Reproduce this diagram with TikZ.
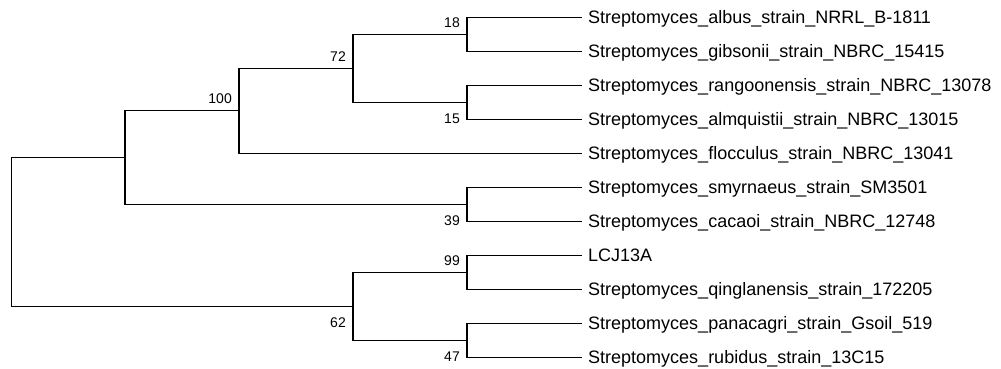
\documentclass[tikz,border=0pt]{standalone}
\usepackage{fontspec}
\setmainfont{Liberation Sans}
\begin{document}
\begin{tikzpicture}[x=1pt,y=-1pt,
  branch/.style={line width=1.2pt,draw=black},
  leaf/.style={anchor=west,inner xsep=6pt,inner ysep=0pt,
    font=\fontsize{18}{18}\selectfont,text height=12.6pt,text depth=0pt},
  boot/.style={anchor=east,inner sep=0pt,
    font=\fontsize{14}{14}\selectfont,text height=10pt,text depth=0pt}]
\useasboundingbox (0,0) rectangle (1001,369);

% taxa
\node[leaf] (albus)   at (582, 17.3) {Streptomyces\_albus\_strain\_NRRL\_B-1811};
\node[leaf] (gibs)    at (582, 51.3) {Streptomyces\_gibsonii\_strain\_NBRC\_15415};
\node[leaf] (rang)    at (582, 85.3) {Streptomyces\_rangoonensis\_strain\_NBRC\_13078};
\node[leaf] (almq)    at (582,119.3) {Streptomyces\_almquistii\_strain\_NBRC\_13015};
\node[leaf] (flocc)   at (582,153.3) {Streptomyces\_flocculus\_strain\_NBRC\_13041};
\node[leaf] (smyr)    at (582,187.3) {Streptomyces\_smyrnaeus\_strain\_SM3501};
\node[leaf] (cacaoi)  at (582,221.3) {Streptomyces\_cacaoi\_strain\_NBRC\_12748};
\node[leaf] (lcj)     at (582,255.3) {LCJ13A};
\node[leaf] (qing)    at (582,289.3) {Streptomyces\_qinglanensis\_strain\_172205};
\node[leaf] (panac)   at (582,323.3) {Streptomyces\_panacagri\_strain\_Gsoil\_519};
\node[leaf] (rubid)   at (582,357.3) {Streptomyces\_rubidus\_strain\_13C15};

% internal nodes
\coordinate (n18)  at (467, 34.3);
\coordinate (n15)  at (467,102.3);
\coordinate (n72)  at (353, 68.3);
\coordinate (n100) at (239,110.8);
\coordinate (n39)  at (467,204.3);
\coordinate (nA)   at (125,157.55);
\coordinate (n99)  at (467,272.3);
\coordinate (n47)  at (467,340.3);
\coordinate (n62)  at (353,306.3);
\coordinate (root) at (11.3,231.9);

% branches
\draw[branch] (n18) |- (albus.west);
\draw[branch] (n18) |- (gibs.west);
\draw[branch] (n15) |- (rang.west);
\draw[branch] (n15) |- (almq.west);
\draw[branch] (n72) |- (n18);
\draw[branch] (n72) |- (n15);
\draw[branch] (n100) |- (n72);
\draw[branch] (n100) |- (flocc.west);
\draw[branch] (n39) |- (smyr.west);
\draw[branch] (n39) |- (cacaoi.west);
\draw[branch] (nA) |- (n100);
\draw[branch] (nA) |- (n39);
\draw[branch] (n99) |- (lcj.west);
\draw[branch] (n99) |- (qing.west);
\draw[branch] (n47) |- (panac.west);
\draw[branch] (n47) |- (rubid.west);
\draw[branch] (n62) |- (n99);
\draw[branch] (n62) |- (n47);
\draw[branch] (root) |- (nA);
\draw[branch] (root) |- (n62);

% bootstrap values
\node[boot] (b18)  at ([shift={(-7,-12)}]n18)  {18};
\node[boot] (b15)  at ([shift={(-7,16)}]n15)   {15};
\node[boot] (b72)  at ([shift={(-7,-12)}]n72)  {72};
\node[boot] (b100) at ([shift={(-7,-12)}]n100) {100};
\node[boot] (b39)  at ([shift={(-7,16)}]n39)   {39};
\node[boot] (b99)  at ([shift={(-7,-12)}]n99)  {99};
\node[boot] (b47)  at ([shift={(-7,16)}]n47)   {47};
\node[boot] (b62)  at ([shift={(-7,16)}]n62)   {62};
\end{tikzpicture}
\end{document}
